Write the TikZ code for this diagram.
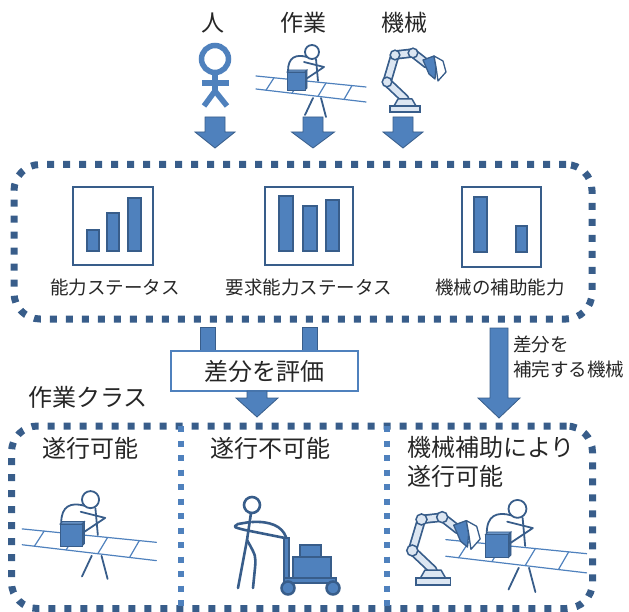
\documentclass[tikz,border=0pt]{standalone}
\usepackage{fontspec}
\newfontfamily\jp{Noto Sans CJK JP}
\definecolor{navy}{HTML}{385D8A}
\definecolor{steel}{HTML}{4F81BD}
\definecolor{pale}{HTML}{DCE6F2}
\definecolor{ink}{HTML}{262626}

\tikzset{
  lbl/.style={font=\jp\fontsize{18.5}{25}\selectfont, text=ink, inner sep=0},
  big/.style={font=\jp\fontsize{24}{29}\selectfont, text=ink, inner sep=0},
  dotbox/.style={draw=navy, line width=7pt, dash pattern=on 7pt off 9pt,
                 rounded corners=26pt, inner sep=0},
  divider/.style={draw=steel, line width=6pt, dash pattern=on 6pt off 8.5pt},
  chartframe/.style={draw=navy, line width=2.5pt, fill=white},
  bar/.style={draw=navy, line width=1.5pt, fill=steel},
  blockarrow/.style={fill=steel, draw=navy, line width=0.8pt},
  figline/.style={draw=navy, line width=1.8pt, line cap=round, line join=round},
  beltline/.style={draw=steel, line width=1.2pt, line cap=round},
  % block arrow pointing down: half shaft, half head, neck depth, length
  pics/downarrow/.style n args={4}{code={
    \filldraw[blockarrow] (-#1,0) -- (#1,0) -- (#1,#3) -- (#2,#3) -- (0,#4)
      -- (-#2,#3) -- (-#1,#3) -- cycle;}},
  % worker bent over a conveyor belt, origin at the centre of the parcel
  pics/worker/.style={code={
    \draw[figline] (17,17) -- (9,34);
    \draw[figline] (25,17) -- (30,36);
    \draw[figline] (16,-29) circle (7);
    \draw[figline] (11,-24) .. controls (0,-27) and (-8,-24) .. (-8,-10);
    \draw[figline] (20,-22) -- (22,0);
    \draw[beltline] (-40,-5) -- (70,6);
    \draw[beltline] (-40,8) -- (70,21);
    \draw[beltline] (-22,-3.2) -- (-30,9.2);
    \draw[beltline] (4,-0.6) -- (-4,12.2);
    \draw[beltline] (30,2) -- (22,15.3);
    \draw[beltline] (56,4.6) -- (48,18.4);
    \filldraw[fill=steel!85!white, draw=navy, line width=0.8pt]
      (-9,-9) -- (-7,-11) -- (11,-11) -- (9,-9) -- cycle;
    \filldraw[fill=navy!90!steel, draw=navy, line width=0.8pt]
      (9,-9) -- (11,-11) -- (11,7) -- (9,9) -- cycle;
    \filldraw[fill=steel, draw=navy, line width=0.8pt] (-9,-9) rectangle (9,9);
    \draw[figline] (8,-19) -- (28,-14) -- (10,-2);
  }},
  % robot arm, origin at the bottom centre of its base
  pics/robot/.style={code={
    \draw[navy, line width=9.5pt, line cap=round, line join=round]
      (0,-13) -- (-18,-30) -- (-10,-57) -- (8,-59) -- (22,-48);
    \draw[pale, line width=6pt, line cap=round, line join=round]
      (0,-13) -- (-18,-30) -- (-10,-57) -- (8,-59) -- (22,-48);
    \filldraw[fill=steel, draw=navy, line width=1.3pt, line join=round]
      (18,-52) -- (29,-56) -- (31,-45) -- (30,-33) -- (24,-38) -- (21,-45) -- cycle;
    \filldraw[fill=white, draw=navy, line width=1.3pt, line join=round]
      (29,-56) -- (38,-51) -- (41,-40) -- (33,-31) -- (31,-45) -- cycle;
    \foreach \p in {(-18,-30),(-10,-57),(8,-59)}
      \filldraw[fill=pale, draw=navy, line width=1.5pt] \p circle (4.8);
    \filldraw[fill=pale, draw=navy, line width=1.5pt, line join=round]
      (-11,-6) -- (-7,-13) -- (7,-13) -- (11,-6) -- cycle;
    \filldraw[fill=pale, draw=navy, line width=1.5pt] (-15,-6) rectangle (15,0);
  }}
}

\begin{document}
\begin{tikzpicture}[x=1pt, y=-1pt]
\useasboundingbox (0,0) rectangle (629,612);

% --- inputs: person, task, machine ---
\node[big, font=\jp\fontsize{23}{28}\selectfont] (person) at (213,23) {人};
\node[big, font=\jp\fontsize{23}{28}\selectfont] (task) at (303,23) {作業};
\node[big, font=\jp\fontsize{23}{28}\selectfont] (machine) at (404,23) {機械};

% person pictogram
\begin{scope}[steel, line width=5.5pt]
  \draw (215,59) circle (13.5);
  \draw (215,72) -- (215,91);
  \draw (202,83) -- (229,83);
  \draw[line join=round] (204,106) -- (215,91) -- (227,106);
\end{scope}

\pic at (296,81) {worker};
\pic at (405,112) {robot};

\pic at (215,117) {downarrow={10}{20}{15}{31}};
\pic at (313,117) {downarrow={10}{21.5}{15}{31}};
\pic at (403,117) {downarrow={10}{20}{15}{31}};

% --- status panel ---
\node[dotbox, minimum width=578, minimum height=154.5] (status) at (303,241.75) {};

\draw[chartframe] (73,187) rectangle (153,265);
\draw[bar] (87,230) rectangle (99,251);
\draw[bar] (107,213) rectangle (119,251);
\draw[bar] (128,198) rectangle (141,251);
\node[lbl] (ability) at (115,287) {能力ステータス};

\draw[chartframe] (265,187) rectangle (353,265);
\draw[bar] (279,196) rectangle (293,251);
\draw[bar] (303,206) rectangle (317,251);
\draw[bar] (326,200) rectangle (339,251);
\node[lbl] (required) at (309,287) {要求能力ステータス};

\draw[chartframe] (462,187) rectangle (541,267);
\draw[bar] (474,197) rectangle (487,252);
\draw[bar] (516,226) rectangle (527,252);
\node[lbl] (assist) at (500,287) {機械の補助能力};

% --- evaluation of the difference ---
\filldraw[blockarrow] (200,327) rectangle (215,356);
\filldraw[blockarrow] (302,327) rectangle (317,356);
\node[big, draw=steel, line width=1.2pt, fill=white, minimum width=187,
      minimum height=40] (eval) at (264.5,371) {差分を評価};
\pic at (257,391) {downarrow={10}{21}{7}{26}};

\pic at (499,328) {downarrow={9}{21}{70}{90}};
\node[lbl, anchor=north west, align=left] (complement) at (513,336)
  {差分を\\補完する機械};

% --- task classes ---
\node[big] (classes) at (88,397) {作業クラス};
\node[dotbox, minimum width=581, minimum height=182.5] (classbox) at (302,517.25) {};
\draw[divider] (181,426) -- (181,609);
\draw[divider] (387,426) -- (387,609);

\node[big] (feasible) at (90,448) {遂行可能};
\node[big] (infeasible) at (270,448) {遂行不可能};
\node[big, anchor=north west, align=left] (assisted) at (407,436)
  {機械補助により\\遂行可能};

\pic[scale=1.22] at (71,535) {worker};

% figure pushing a cart
\begin{scope}[figline, line width=2.6pt]
  \draw (252,505) circle (8);
  \draw (251,513) -- (247,540);
  \draw (247,540) -- (238,588);
  \draw (247,540) .. controls (256,556) .. (255,568) -- (253,588);
  \draw (250,522) -- (238,524) .. controls (233,527) .. (245,530) -- (285,538);
  \draw (252,522) .. controls (270,521) and (282,526) .. (286,537);
\end{scope}
\filldraw[fill=steel, draw=navy, line width=1.3pt] (284,538) rectangle (289,582);
\filldraw[fill=steel, draw=navy, line width=2pt] (300,545) rectangle (321,557);
\filldraw[fill=steel, draw=navy, line width=2pt] (293,557) rectangle (331,578);
\filldraw[fill=steel, draw=navy, line width=1.5pt] (284,578) rectangle (336,583);
\filldraw[fill=steel, draw=navy, line width=2.5pt] (288,588) circle (6.5);
\filldraw[fill=steel, draw=navy, line width=2.5pt] (333,588) circle (6.5);

\pic[scale=1.28] at (497,546) {worker};
\pic[scale=1.15] at (433,585) {robot};
\end{tikzpicture}
\end{document}
